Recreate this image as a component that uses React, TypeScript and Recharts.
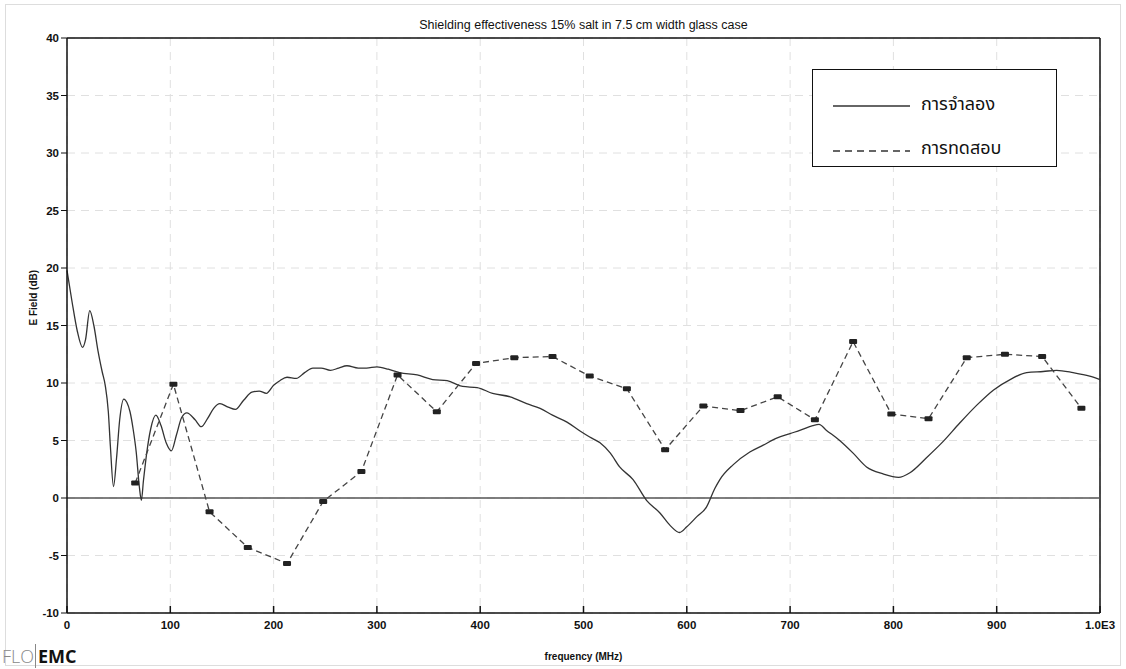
import { LineChart, Line, XAxis, YAxis, CartesianGrid, ReferenceLine } from "recharts";

// simulated curve (solid)
const simFreq = [
  0, 5, 10, 15, 18, 22, 26, 30, 34, 37, 40, 42, 45, 48, 51, 55, 58, 61, 64, 67, 70, 72, 74, 77, 81, 86, 91,
  96, 101, 106, 111, 116, 124, 130, 136, 142, 148, 156, 163, 171, 179, 186, 193, 200, 206, 213, 222, 230,
  238, 246, 255, 263, 271, 282, 290, 300, 311, 322, 339, 354, 368, 383, 397, 412, 429, 445, 458, 470, 484,
  497, 506, 516, 526, 535, 548, 561, 574, 584, 593, 600, 610, 619, 627, 632, 645, 661, 674, 687, 700, 710,
  722, 728, 735, 748, 761, 774, 790, 805, 816, 832, 848, 864, 881, 897, 913, 929, 945, 958, 974, 990, 1000,
];
const simValue = [
  19.8, 17.0, 14.5, 13.1, 13.8, 16.3, 15.0, 12.8, 11.0, 9.8, 7.5, 4.5, 1.0, 3.5, 6.8, 8.6, 8.3, 7.5, 6.0,
  4.0, 1.0, -0.2, 1.5, 3.8, 6.0, 7.2, 6.3, 4.8, 4.1, 5.5, 7.0, 7.4, 6.8, 6.2, 6.9, 7.8, 8.2, 7.9, 7.7, 8.5,
  9.2, 9.3, 9.1, 9.8, 10.2, 10.5, 10.4, 10.9, 11.3, 11.3, 11.1, 11.3, 11.5, 11.3, 11.3, 11.4, 11.2, 10.9,
  10.7, 10.3, 10.2, 9.7, 9.6, 9.1, 8.8, 8.2, 7.8, 7.2, 6.6, 5.8, 5.3, 4.8, 3.9, 2.7, 1.6, -0.2, -1.3, -2.4,
  -3.0, -2.5, -1.6, -0.8, 0.8, 1.6, 2.9, 4.0, 4.6, 5.2, 5.6, 5.9, 6.3, 6.4, 5.9, 5.0, 3.9, 2.7, 2.1, 1.8,
  2.2, 3.5, 4.9, 6.5, 8.1, 9.4, 10.3, 10.9, 11.0, 11.1, 10.9, 10.6, 10.3,
];

// measured points (dashed)
const testFreq = [66, 103, 138, 175, 213, 248, 285, 320, 358, 396, 433, 470, 506, 542, 579, 616, 652, 688, 724, 761, 798, 834, 871, 908, 944, 982];
const testValue = [1.3, 9.9, -1.2, -4.3, -5.7, -0.3, 2.3, 10.7, 7.5, 11.7, 12.2, 12.3, 10.6, 9.5, 4.2, 8.0, 7.6, 8.8, 6.8, 13.6, 7.3, 6.9, 12.2, 12.5, 12.3, 7.8];

const xTicks = [0, 100, 200, 300, 400, 500, 600, 700, 800, 900, 1000];
const yTicks = [-10, -5, 0, 5, 10, 15, 20, 25, 30, 35, 40];

const simData = simFreq.map((f, i) => ({ f, v: simValue[i] }));
const testData = testFreq.map((f, i) => ({ f, v: testValue[i] }));

const font = "'Liberation Sans', Arial, sans-serif";
const thaiFont = "'Noto Sans Thai', 'Noto Sans', 'DejaVu Sans', sans-serif";

const fmtX = (v: number) => (v === 1000 ? "1.0E3" : String(v));

const XTick = (props: any) => {
  const { x, y, payload } = props;
  return (
    <g>
      <line x1={x} y1={y} x2={x} y2={y - 7} stroke="#111" strokeWidth={1.5} />
      <text x={x} y={y + 16} textAnchor="middle" fontSize={11.5} fontWeight="bold" fill="#111" fontFamily={font}>
        {fmtX(payload.value)}
      </text>
    </g>
  );
};

const MarkDot = (props: any) => {
  const { cx, cy } = props;
  if (cx == null || cy == null) return null;
  return <rect x={cx - 4} y={cy - 2.5} width={8} height={5} rx={1} fill="#222" />;
};

const LegendBox = () => (
  <div
    style={{
      position: "absolute",
      left: 812,
      top: 69,
      width: 245,
      height: 98,
      border: "1.5px solid #111",
      background: "#fff",
      boxSizing: "border-box",
    }}
  >
    <svg width={242} height={95} style={{ display: "block" }}>
      <line x1={20} y1={36} x2={97} y2={36} stroke="#333" strokeWidth={1.3} />
      <text x={108} y={35} fontSize={18} fill="#111" dominantBaseline="middle" fontFamily={thaiFont}>การจำลอง</text>
      <line x1={20} y1={81} x2={97} y2={81} stroke="#333" strokeWidth={1.3} strokeDasharray="7 5" />
      <text x={108} y={79} fontSize={18} fill="#111" dominantBaseline="middle" fontFamily={thaiFont}>การทดสอบ</text>
    </svg>
  </div>
);

export default function App() {
  return (
    <div style={{ position: "absolute", left: 0, top: 0, width: 1126, height: 669, background: "#fff" }}>
      <div style={{ position: "absolute", left: 5, top: 4, width: 1114, height: 660, border: "1px solid #ddd" }} />
      <div
        style={{
          position: "absolute",
          left: 67,
          width: 1033,
          top: 18,
          textAlign: "center",
          fontFamily: font,
          fontSize: 12.5,
          color: "#111",
        }}
      >
        Shielding effectiveness 15% salt in 7.5 cm width glass case
      </div>
      <LineChart width={1126} height={669} margin={{ top: 38, right: 26, bottom: 0, left: 0 }}>
        <CartesianGrid stroke="#e0e0e0" strokeDasharray="8 6" />
        <XAxis
          type="number"
          dataKey="f"
          domain={[0, 1000]}
          ticks={xTicks}
          height={56}
          tickSize={0}
          tickMargin={0}
          tickLine={false}
          tick={<XTick />}
          axisLine={{ stroke: "#111", strokeWidth: 1.5 }}
          label={{ value: "frequency (MHz)", position: "insideBottom", offset: 9, fontSize: 10, fontWeight: "bold", fill: "#111", fontFamily: font }}
        />
        <YAxis
          type="number"
          domain={[-10, 40]}
          ticks={yTicks}
          width={67}
          tickSize={6}
          tickMargin={2}
          tick={{ fontSize: 11.5, fontWeight: "bold", fill: "#111", fontFamily: font }}
          tickLine={{ stroke: "#111" }}
          axisLine={{ stroke: "#111", strokeWidth: 1.5 }}
          label={{ value: "E Field (dB)", angle: -90, position: "insideLeft", offset: 33, fontSize: 10, fontWeight: "bold", fill: "#111", fontFamily: font }}
        />
        <ReferenceLine y={40} stroke="#111" strokeWidth={1.5} />
        <ReferenceLine x={1000} stroke="#111" strokeWidth={1.5} />
        <ReferenceLine y={0} stroke="#555" strokeWidth={1.3} />
        <Line
          data={simData}
          dataKey="v"
          name="การจำลอง"
          type="monotone"
          stroke="#333"
          strokeWidth={1.3}
          dot={false}
          isAnimationActive={false}
        />
        <Line
          data={testData}
          dataKey="v"
          name="การทดสอบ"
          type="linear"
          stroke="#444"
          strokeWidth={1.3}
          strokeDasharray="6 4"
          dot={<MarkDot />}
          isAnimationActive={false}
        />
      </LineChart>
      <LegendBox />
      <div style={{ position: "absolute", left: 2, top: 645, fontFamily: "'Open Sans', sans-serif", fontSize: 18, lineHeight: "22px" }}>
        <span style={{ color: "#888", fontWeight: 300 }}>FLO</span>
        <span style={{ borderLeft: "1px solid #888", marginLeft: 1, paddingLeft: 2, color: "#111", fontWeight: "bold" }}>EMC</span>
      </div>
    </div>
  );
}
